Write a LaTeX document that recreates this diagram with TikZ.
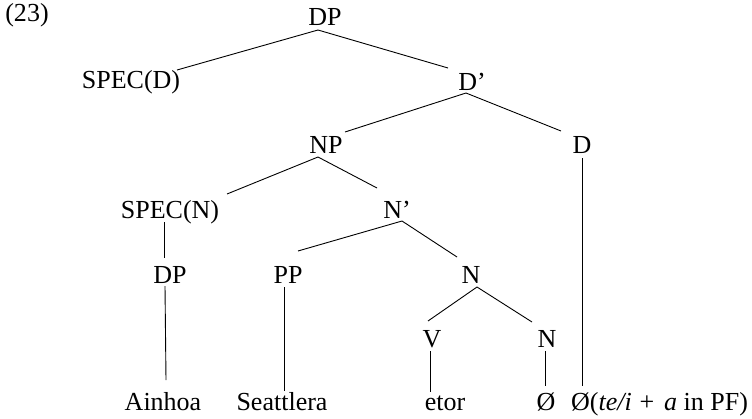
\documentclass[tikz,border=0pt]{standalone}
\usepackage{fontspec}
\setmainfont{Liberation Serif}
\begin{document}
\begin{tikzpicture}[x=1pt,y=-1pt,
  lbl/.style={inner sep=0pt,anchor=base,font=\fontsize{26}{31}\selectfont},
  edge/.style={line width=0.9pt}]
\useasboundingbox (0,0) rectangle (752,418);
% labels
\node[lbl] (ex) at (27,21.5) {(23)};
\node[lbl] (DPa) at (325,25) {DP};
\node[lbl] (SPECD) at (131,88) {SPEC(D)};
\node[lbl] (Dbar) at (472,90) {D'};
\node[lbl] (NP) at (326,153) {NP};
\node[lbl] (D) at (582,153) {D};
\node[lbl] (SPECN) at (170,218) {SPEC(N)};
\node[lbl] (Nbar) at (397,218) {N'};
\node[lbl] (DPb) at (170,283) {DP};
\node[lbl] (PP) at (288,283) {PP};
\node[lbl] (Na) at (471,283) {N};
\node[lbl] (V) at (432,347) {V};
\node[lbl] (Nb) at (547,347) {N};
\node[lbl] (Ainhoa) at (163,410) {Ainhoa};
\node[lbl] (Seattlera) at (282,410) {Seattlera};
\node[lbl] (etor) at (445,410) {etor};
\node[lbl] (zero) at (546,410) {Ø};
\node[lbl,anchor=base west] (zeroPF) at (571,410) {Ø(\textit{te/i}\hspace{0.3em}+\hspace{0.38em}\textit{a} in PF)};
% connectors
\draw[edge] ([shift={(-7,5)}]DPa.base) -- ([shift={(46,-18)}]SPECD.base);
\draw[edge] ([shift={(-7,5)}]DPa.base) -- ([shift={(-24,-22)}]Dbar.base);
\draw[edge] ([shift={(-6,3)}]Dbar.base) -- ([shift={(19,-21)}]NP.base);
\draw[edge] ([shift={(-6,3)}]Dbar.base) -- ([shift={(-21,-22)}]D.base);
\draw[edge] ([shift={(0,5)}]D.base) -- ([shift={(11,-24)}]zeroPF.base west);
\draw[edge] ([shift={(-8,4)}]NP.base) -- ([shift={(57,-24)}]SPECN.base);
\draw[edge] ([shift={(-8,4)}]NP.base) -- ([shift={(-20,-30)}]Nbar.base);
\draw[edge] ([shift={(5,3)}]Nbar.base) -- ([shift={(10,-32)}]PP.base);
\draw[edge] ([shift={(5,3)}]Nbar.base) -- ([shift={(-14,-26)}]Na.base);
\draw[edge] ([shift={(-6,4)}]SPECN.base) -- ([shift={(-6,-25)}]DPb.base);
\draw[edge] ([shift={(-5,3)}]DPb.base) -- ([shift={(3,-30)}]Ainhoa.base);
\draw[edge] ([shift={(-4,4)}]PP.base) -- ([shift={(2,-19)}]Seattlera.base);
\draw[edge] ([shift={(6,4)}]Na.base) -- ([shift={(-4,-26)}]V.base);
\draw[edge] ([shift={(6,4)}]Na.base) -- ([shift={(-15,-25)}]Nb.base);
\draw[edge] ([shift={(-2,4)}]V.base) -- ([shift={(-15,-18)}]etor.base);
\draw[edge] ([shift={(-2,4)}]Nb.base) -- ([shift={(-1,-24)}]zero.base);
\end{tikzpicture}
\end{document}
